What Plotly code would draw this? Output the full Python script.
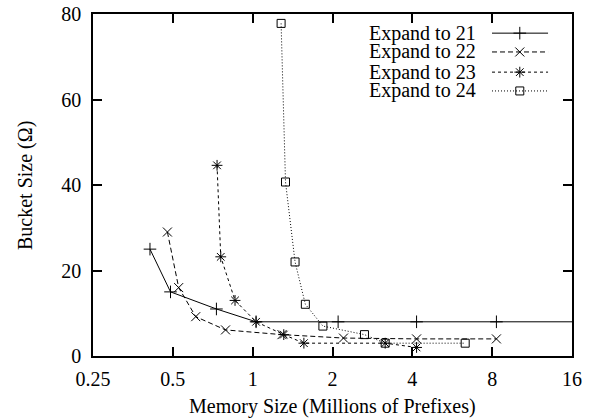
import plotly.graph_objects as go

# Data
names = ["Expand to 21", "Expand to 22", "Expand to 23", "Expand to 24"]
x21 = [0.41, 0.49, 0.73, 1.03, 2.1, 4.15, 8.3, 17.0]
y21 = [25, 15, 11, 8, 8, 8, 8, 8]
x22 = [0.477, 0.526, 0.61, 0.79, 1.29, 2.2, 4.15, 8.3]
y22 = [29, 16, 9.2, 6.1, 5, 4.2, 4, 4]
x23 = [0.734, 0.758, 0.858, 1.03, 1.31, 1.56, 3.16, 4.15]
y23 = [44.6, 23.2, 13, 8, 5, 3, 3, 2]
x24 = [1.28, 1.33, 1.445, 1.58, 1.84, 2.64, 3.16, 6.33]
y24 = [77.8, 40.7, 22, 12.1, 7, 5, 3, 3]
xticks = [0.25, 0.5, 1, 2, 4, 8, 16]
xticktext = ["0.25", "0.5", "1", "2", "4", "8", "16"]
yticks = [0, 20, 40, 60, 80]

FONT = "Liberation Serif, Times New Roman, serif"
FS = 20

series = [
    (x21, y21, "solid", "cross-thin", 9),
    (x22, y22, "5px,3px", "x-thin", 9),
    (x23, y23, "3px,3px", "asterisk", 9),
    (x24, y24, "1px,2px", "square-open", 8),
]

fig = go.Figure()
for (xs, ys, dash, sym, ms), nm in zip(series, names):
    fig.add_trace(go.Scatter(
        x=xs, y=ys, mode="lines+markers", name=nm, showlegend=False,
        line=dict(color="black", width=1, dash=dash),
        marker=dict(symbol=sym, size=ms, color="black",
                    line=dict(color="black", width=1)),
        cliponaxis=True,
    ))

# Custom legend (text left, sample right) on an overlay axis
leg_y = [0.944, 0.889, 0.830, 0.775]
for i, ((xs, ys, dash, sym, ms), nm) in enumerate(zip(series, names)):
    fig.add_trace(go.Scatter(
        x=[0.833, 0.950], y=[leg_y[i], leg_y[i]], mode="lines",
        xaxis="x2", yaxis="y2", showlegend=False, hoverinfo="skip",
        line=dict(color="black", width=1, dash=dash),
    ))
    fig.add_trace(go.Scatter(
        x=[0.891], y=[leg_y[i]], mode="markers",
        xaxis="x2", yaxis="y2", showlegend=False, hoverinfo="skip",
        marker=dict(symbol=sym, size=ms, color="black",
                    line=dict(color="black", width=1)),
    ))
    fig.add_annotation(
        x=0.804, y=leg_y[i], xref="x2", yref="y2", text=nm,
        showarrow=False, xanchor="right", yanchor="middle",
        font=dict(family=FONT, size=FS, color="black"),
    )

# Axis titles as annotations (keeps the plot area fixed)
fig.add_annotation(x=0.5, y=-0.149, xref="paper", yref="paper",
                   text="Memory Size (Millions of Prefixes)", showarrow=False,
                   xanchor="center", yanchor="middle",
                   font=dict(family=FONT, size=FS, color="black"))
fig.add_annotation(x=-0.142, y=0.5, xref="paper", yref="paper",
                   text="Bucket Size (Ω)", showarrow=False, textangle=-90,
                   xanchor="center", yanchor="middle",
                   font=dict(family=FONT, size=FS, color="black"))

axis_common = dict(
    showline=True, linecolor="black", linewidth=1.5, mirror="ticks",
    ticks="inside", ticklen=9, tickwidth=1.5, tickcolor="black",
    showgrid=False, zeroline=False, automargin=False,
    tickfont=dict(family=FONT, size=FS, color="black"),
)

fig.update_layout(
    width=594, height=418,
    margin=dict(l=93, r=22, t=14, b=62, autoexpand=False),
    paper_bgcolor="white", plot_bgcolor="white",
    font=dict(family=FONT, size=FS, color="black"),
    xaxis=dict(type="log", range=[-0.60206, 1.20412],
               tickvals=xticks, ticktext=xticktext,
               ticklabelstandoff=4,
               **axis_common),
    yaxis=dict(range=[0, 80], tickvals=yticks,
               ticklabelstandoff=6,
               **axis_common),
    xaxis2=dict(overlaying="x", range=[0, 1], visible=False),
    yaxis2=dict(overlaying="y", range=[0, 1], visible=False),
)

# Remove the default page margin so the figure fills the window exactly
fig.write_html("out.html",
               config={"displayModeBar": False},
               post_script="document.body.style.margin='0';document.body.style.overflow='hidden';")
